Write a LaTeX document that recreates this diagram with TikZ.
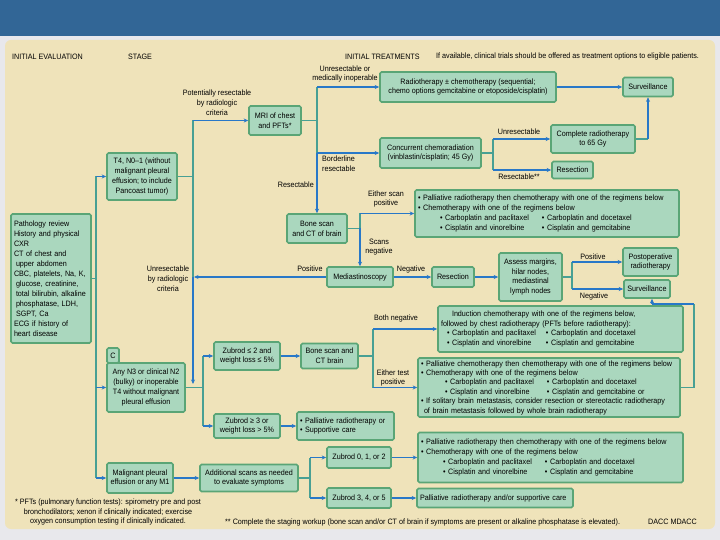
\documentclass[tikz,border=0pt]{standalone}
\usepackage{fontspec}
\setmainfont{Liberation Sans}[FakeStretch=0.92]
\usetikzlibrary{arrows.meta}
\definecolor{bandblue}{RGB}{50,102,150}
\definecolor{bggrey}{RGB}{232,232,236}
\definecolor{panel}{RGB}{239,227,186}
\definecolor{boxfill}{RGB}{170,215,190}
\definecolor{boxline}{RGB}{90,165,118}
\definecolor{lineteal}{RGB}{72,160,148}
\definecolor{arrowblue}{RGB}{40,120,200}
\newcommand{\dfont}{\fontsize{7.8}{9.8}\selectfont}
\newcommand{\sub}[2]{\makebox[102pt][l]{• #1}• #2}
\begin{document}
\begin{tikzpicture}[x=1pt,y=-1pt,
  box/.style={draw=boxline, line width=1.6pt, fill=boxfill, rounded corners=1.5pt,
              inner sep=2pt, align=center, font=\dfont},
  lbl/.style={inner sep=0pt, align=center, font=\dfont},
  ln/.style={draw=lineteal, line width=1.4pt},
  ar/.style={draw=arrowblue, line width=1.4pt, -{Stealth[length=4.5pt,width=4pt]}}]

% background
\useasboundingbox (0,0) rectangle (720,540);
\fill[bggrey] (0,0) rectangle (720,540);
\fill[bandblue] (0,0) rectangle (720,36);
\fill[panel, rounded corners=6pt] (5,40) rectangle (715,529);

% headers
\node[lbl, anchor=west] (h1) at (12,57) {INITIAL EVALUATION};
\node[lbl, anchor=west] (h2) at (128,57) {STAGE};
\node[lbl, anchor=west] (h3) at (345,57) {INITIAL TREATMENTS};
\node[lbl, anchor=west] (h4) at (436,56) {If available, clinical trials should be offered as treatment options to eligible patients.};

% boxes
\node[box, align=left, text width=74, minimum width=80, minimum height=129,
      font=\fontsize{7.8}{10}\selectfont] (path) at (51,278.5)
  {Pathology review\\History and physical\\CXR\\CT of chest and\\\hspace*{2pt}upper abdomen\\CBC, platelets, Na, K,\\\hspace*{2pt}glucose, creatinine,\\\hspace*{2pt}total bilirubin, alkaline\\\hspace*{2pt}phosphatase, LDH,\\\hspace*{2pt}SGPT, Ca\\ECG if history of\\heart disease};

\node[box, minimum width=70, minimum height=47] (t4) at (142,176.5)
  {T4, N0–1 (without\\malignant pleural\\effusion; to include\\Pancoast tumor)};
\node[box, minimum width=52, minimum height=29] (mri) at (275,120.5) {MRI of chest\\and PFTs*};
\node[box, minimum width=176, minimum height=30] (radio) at (468,87)
  {Radiotherapy ± chemotherapy (sequential;\\chemo options gemcitabine or etoposide/cisplatin)};
\node[box, minimum width=50, minimum height=19] (surv1) at (648,87) {Surveillance};
\node[box, minimum width=101, minimum height=30] (concur) at (430.5,153)
  {Concurrent chemoradiation\\(vinblastin/cisplatin; 45 Gy)};
\node[box, minimum width=84, minimum height=28] (complete) at (593,139)
  {Complete radiotherapy\\to 65 Gy};
\node[box, minimum width=41, minimum height=17] (resec1) at (572.5,170) {Resection};
\node[box, minimum width=60, minimum height=29] (bone1) at (317,228.5) {Bone scan\\and CT of brain};
\node[box, align=left, text width=258, minimum width=264, minimum height=47] (pall1) at (547,213.5)
  {• Palliative radiotherapy then chemotherapy with one of the regimens below\\
   • Chemotherapy with one of the regimens below\\
   \hspace*{22pt}\sub{Carboplatin and paclitaxel}{Carboplatin and docetaxel}\\
   \hspace*{22pt}\sub{Cisplatin and vinorelbine}{Cisplatin and gemcitabine}};
\node[box, minimum width=66, minimum height=20] (medi) at (360,277) {Mediastinoscopy};
\node[box, minimum width=42, minimum height=20] (resec2) at (453,277) {Resection};
\node[box, minimum width=63, minimum height=48] (assess) at (530.5,277)
  {Assess margins,\\hilar nodes,\\mediastinal\\lymph nodes};
\node[box, minimum width=55, minimum height=28] (postop) at (650.5,262) {Postoperative\\radiotherapy};
\node[box, minimum width=46, minimum height=18] (surv2) at (647,289) {Surveillance};
\node[box, align=left, text width=241, minimum width=245, minimum height=46] (induct) at (560.5,329)
  {\hspace*{12pt}Induction chemotherapy with one of the regimens below,\\
   \hspace*{1pt}followed by chest radiotherapy (PFTs before radiotherapy):\\
   \hspace*{7pt}\makebox[99pt][l]{• Carboplatin and paclitaxel}• Carboplatin and docetaxel\\
   \hspace*{7pt}\makebox[99pt][l]{• Cisplatin and vinorelbine}• Cisplatin and gemcitabine};
\node[box, align=left, text width=256, minimum width=262, minimum height=59,
      font=\fontsize{7.8}{9.4}\selectfont] (brain) at (549,387.5)
  {• Palliative chemotherapy then chemotherapy with one of the regimens below\\
   • Chemotherapy with one of the regimens below\\
   \hspace*{24pt}\sub{Carboplatin and paclitaxel}{Carboplatin and docetaxel}\\
   \hspace*{24pt}\sub{Cisplatin and vinorelbine}{Cisplatin and gemcitabine or}\\
   • If solitary brain metastasis, consider resection or stereotactic radiotherapy\\
   \hspace*{3pt}of brain metastasis followed by whole brain radiotherapy};
\node[box, minimum width=12, minimum height=15, inner sep=0pt] (ctag) at (113,355.5) {C};
\node[box, minimum width=78, minimum height=49] (cbox) at (146,387.5)
  {Any N3 or clinical N2\\(bulky) or inoperable\\T4 without malignant\\pleural effusion};
\node[box, minimum width=66, minimum height=28] (zub1) at (247,356) {Zubrod ≤ 2 and\\weight loss ≤ 5\%};
\node[box, minimum width=57, minimum height=25] (bone2) at (329.5,356) {Bone scan and\\CT brain};
\node[box, minimum width=66, minimum height=24] (zub2) at (247,426) {Zubrod ≥ 3 or\\weight loss > 5\%};
\node[box, align=left, minimum width=97, minimum height=28, text width=91] (supp) at (345.5,426)
  {• Palliative radiotherapy or\\• Supportive care};
\node[box, minimum width=66, minimum height=30] (malig) at (140,478) {Malignant pleural\\effusion or any M1};
\node[box, minimum width=98, minimum height=27] (addit) at (249,478) {Additional scans as needed\\to evaluate symptoms};
\node[box, minimum width=64, minimum height=21] (z012) at (359,457.5) {Zubrod 0, 1, or 2};
\node[box, align=left, text width=259, minimum width=265, minimum height=50] (pall3) at (550.5,457.5)
  {• Palliative radiotherapy then chemotherapy with one of the regimens below\\
   • Chemotherapy with one of the regimens below\\
   \hspace*{22pt}\sub{Carboplatin and paclitaxel}{Carboplatin and docetaxel}\\
   \hspace*{22pt}\sub{Cisplatin and vinorelbine}{Cisplatin and gemcitabine}};
\node[box, minimum width=64, minimum height=20] (z345) at (359,498) {Zubrod 3, 4, or 5};
\node[box, align=left, text width=150, minimum width=156, minimum height=19] (ps) at (495,498)
  {Palliative radiotherapy and/or supportive care};

% labels
\node[lbl] (l1) at (217,103) {Potentially resectable\\by radiologic\\criteria};
\node[lbl] (l2) at (345,74) {Unresectable or\\medically inoperable};
\node[lbl, align=left, anchor=west] (l3) at (322,164) {Borderline\\resectable};
\node[lbl, anchor=east] (l4) at (314,185) {Resectable};
\node[lbl] (l5) at (168,279) {Unresectable\\by radiologic\\criteria};
\node[lbl] (l6) at (519,132) {Unresectable};
\node[lbl] (l7) at (519,177) {Resectable**};
\node[lbl] (l8) at (386,199) {Either scan\\positive};
\node[lbl] (l9) at (379,247) {Scans\\negative};
\node[lbl] (l10) at (310,269) {Positive};
\node[lbl] (l11) at (411,269) {Negative};
\node[lbl] (l12) at (593,257) {Positive};
\node[lbl] (l13) at (594,296) {Negative};
\node[lbl] (l14) at (396,318) {Both negative};
\node[lbl] (l15) at (393,378) {Either test\\positive};

% footnotes
\node[lbl] (f1) at (108,512) {* PFTs (pulmonary function tests): spirometry pre and post\\bronchodilators; xenon if clinically indicated; exercise\\oxygen consumption testing if clinically indicated.};
\node[lbl, anchor=west] (f2) at (225,522) {** Complete the staging workup (bone scan and/or CT of brain if symptoms are present or alkaline phosphatase is elevated).};
\node[lbl, anchor=west] (f3) at (648,522) {DACC MDACC};

% connectors: trunk
\coordinate (tr) at (96,278.5);
\draw[ln] (path.east) -- (tr);
\draw[ln] (tr |- t4.west) -- (tr |- malig.west);
\draw[ar] (tr |- t4.west) -- (t4.west);
\draw[ar] (tr |- cbox.west) -- (cbox.west);
\draw[ar] (tr |- malig.west) -- (malig.west);

% T4 branch
\coordinate (s1) at (193,0);
\coordinate (s1b) at (193,384);
\draw[ln] (t4.east) -- (s1 |- t4.east);
\draw[ln] (s1 |- mri.west) -- (s1 |- medi.west);
\draw[ar] (s1 |- medi.west) -- (s1b);
\draw[ar] (s1 |- mri.west) -- (mri.west);
\draw[ar] (medi.west) -- ([xshift=1pt]s1 |- medi.west);

% MRI branch
\coordinate (s2) at (317,0);
\draw[ln] (mri.east) -- (s2 |- mri.east);
\draw[ln] (s2 |- radio.west) -- (s2 |- concur.west);
\draw[ar] (s2 |- radio.west) -- (radio.west);
\draw[ar] (s2 |- concur.west) -- (concur.west);
\draw[ar] (s2 |- concur.west) -- (bone1.north);
\draw[ar] (radio.east) -- (surv1.west);

% concurrent branch
\coordinate (s3) at (493,0);
\draw[ln] (concur.east) -- (s3 |- concur.east);
\draw[ln] (s3 |- complete.west) -- (s3 |- resec1.west);
\draw[ar] (s3 |- complete.west) -- (complete.west);
\draw[ar] (s3 |- resec1.west) -- (resec1.west);
\coordinate (s4) at (648,0);
\draw[ln] (complete.east) -- (s4 |- complete.east);
\draw[ar] (s4 |- complete.east) -- (surv1.south);

% bone scan 1 branch
\coordinate (s5) at (360,0);
\draw[ln] (bone1.east) -- (s5 |- bone1.east);
\draw[ln] (s5 |- pall1.west) -- (s5 |- bone1.east);
\draw[ar] (s5 |- pall1.west) -- (pall1.west);
\draw[ar] (s5 |- bone1.east) -- (medi.north);
\draw[ar] (medi.east) -- (resec2.west);
\draw[ar] (resec2.east) -- (assess.west);

% assess branch
\coordinate (s6) at (572,0);
\draw[ln] (assess.east) -- (s6 |- assess.east);
\draw[ln] (s6 |- postop.west) -- (s6 |- surv2.west);
\draw[ar] (s6 |- postop.west) -- (postop.west);
\draw[ar] (s6 |- surv2.west) -- (surv2.west);

% return loop to surveillance
\coordinate (s7) at (694,304);
\coordinate (s8) at (652,304);
\draw[ln] (brain.east) -| (s7);
\draw[arrowblue, line width=1.4pt] (s7) -- (s8);
\draw[ar] (s8) -- (s8 |- surv2.south);

% C branch
\coordinate (s9) at (203,0);
\draw[ln] (cbox.east) -- (s9 |- cbox.east);
\draw[ln] (s9 |- zub1.west) -- (s9 |- zub2.west);
\draw[ar] (s9 |- zub1.west) -- (zub1.west);
\draw[ar] (s9 |- zub2.west) -- (zub2.west);
\draw[ar] (zub1.east) -- (bone2.west);
\draw[ar] (zub2.east) -- (supp.west);
\coordinate (s10) at (373,0);
\draw[ln] (bone2.east) -- (s10 |- bone2.east);
\draw[ln] (s10 |- induct.west) -- (s10 |- brain.west);
\draw[ar] (s10 |- induct.west) -- (induct.west);
\draw[ar] (s10 |- brain.west) -- (brain.west);

% M1 branch
\draw[ar] (malig.east) -- (addit.west);
\coordinate (s11) at (310,0);
\draw[ln] (addit.east) -- (s11 |- addit.east);
\draw[ln] (s11 |- z012.west) -- (s11 |- z345.west);
\draw[ar] (s11 |- z012.west) -- (z012.west);
\draw[ar] (s11 |- z345.west) -- (z345.west);
\draw[ar] (z012.east) -- (pall3.west);
\draw[ar] (z345.east) -- (ps.west);
\end{tikzpicture}
\end{document}
